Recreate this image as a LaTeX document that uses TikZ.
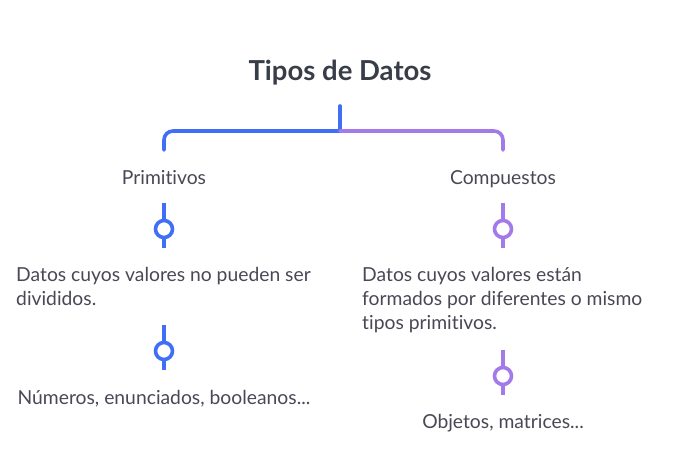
\documentclass[tikz,border=0pt]{standalone}
\usepackage{fontspec}
\setmainfont{Lato}[Ligatures=NoCommon]
\usepackage{tikz}
\usetikzlibrary{calc, positioning}
\definecolor{mapblue}{RGB}{64,110,246}
\definecolor{mappurple}{RGB}{163,122,234}
\definecolor{titlegray}{RGB}{56,62,72}
\definecolor{textgray}{RGB}{72,72,86}
\newcommand{\firstline}{\rule{0pt}{14pt}}

\begin{document}
\begin{tikzpicture}[
  x=1pt, y=-1pt,
  every node/.style={font=\fontsize{19.3}{24}\selectfont, text=textgray, inner sep=0pt},
  title/.style={font=\fontsize{27.5}{30}\selectfont\bfseries, text=titlegray},
  branch/.style={line width=3.6pt, line cap=round, rounded corners=9pt},
  stick/.style={line width=3.6pt},
  marker/.style={circle, draw, fill=white, line width=3.6pt, minimum size=17pt},
  note/.style={align=left, anchor=north west}
]
\useasboundingbox (0,0) rectangle (677,460);
\node[title, anchor=base] (title) at (340,81) {Tipos de Datos};
\coordinate (root) at (340,106);
\coordinate (fork) at (340,131);
\node[anchor=base] (prim) at (164,184) {Primitivos};
\node[anchor=base] (comp) at (503,184) {Compuestos};
% bracket
\draw[branch, mapblue] (root) -- (fork);
\draw[branch, mapblue] (fork) -| (164,150);
\draw[branch, mappurple] (fork) -| (503,150);
% markers, left column
\node[marker, draw=mapblue] (m1) at (164,229) {};
\draw[stick, mapblue] ($(m1)+(0,-26)$) -- (m1.north);
\draw[stick, mapblue] (m1.south) -- ($(m1)+(0,19)$);
\node[note] (primdesc) at (16,267) {\firstline Datos cuyos valores no pueden ser\\divididos.};
\node[marker, draw=mapblue] (m2) at (164,351) {};
\draw[stick, mapblue] ($(m2)+(0,-26)$) -- (m2.north);
\draw[stick, mapblue] (m2.south) -- ($(m2)+(0,19)$);
\node[anchor=base] (primex) at (164,404) {Números, enunciados, booleanos...};
% markers, right column
\node[marker, draw=mappurple] (m3) at (503,229) {};
\draw[stick, mappurple] ($(m3)+(0,-26)$) -- (m3.north);
\draw[stick, mappurple] (m3.south) -- ($(m3)+(0,19)$);
\node[note] (compdesc) at (362,267) {\firstline Datos cuyos valores están\\formados por diferentes o mismo\\tipos primitivos.};
\node[marker, draw=mappurple] (m4) at (503,376) {};
\draw[stick, mappurple] ($(m4)+(0,-26)$) -- (m4.north);
\draw[stick, mappurple] (m4.south) -- ($(m4)+(0,19)$);
\node[anchor=base] (compex) at (503,428) {Objetos, matrices...};
\end{tikzpicture}
\end{document}
